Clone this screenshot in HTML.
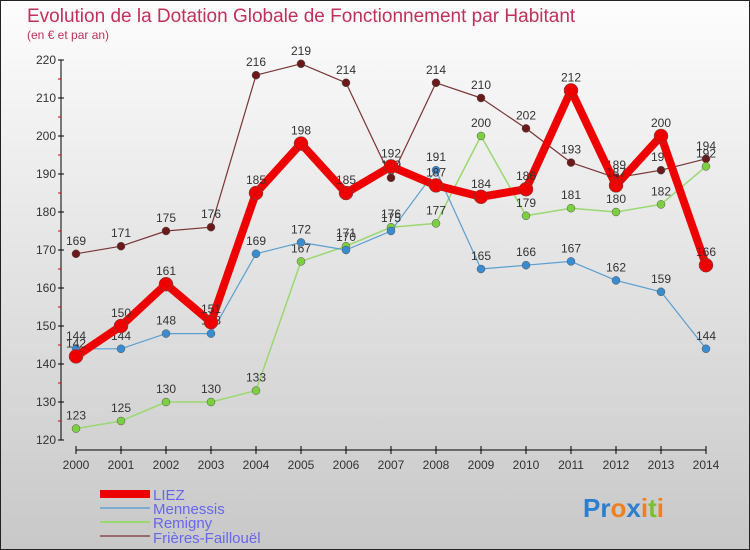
<!DOCTYPE html>
<html><head><meta charset="utf-8"><style>
body{margin:0;}
#c{width:750px;height:550px;position:relative;overflow:hidden;font-family:"Liberation Sans",sans-serif;}
</style></head><body>
<div id="c">
<svg id="s" width="750" height="550" xmlns="http://www.w3.org/2000/svg">
<defs><linearGradient id="bg" x1="0" y1="0" x2="0" y2="1"><stop offset="0" stop-color="#fdfdfd"/><stop offset="1" stop-color="#c8c8c8"/></linearGradient></defs>
<rect x="0.5" y="0.5" width="749" height="549" fill="url(#bg)" stroke="#222"/>
<text x="27" y="22" font-size="19" fill="#c0305a">Evolution de la Dotation Globale de Fonctionnement par Habitant</text>
<text x="27" y="39" font-size="12" fill="#c0305a">(en € et par an)</text>
<g id="axes"></g><g id="series"></g>
<g>
<rect x="100" y="490" width="50" height="8" fill="#e00"/>
<text x="153" y="500" font-size="15" fill="#6666ee">LIEZ</text>
<rect x="100" y="507" width="50" height="2" fill="#7aadd0"/>
<text x="153" y="514" font-size="15" fill="#6666ee">Mennessis</text>
<rect x="100" y="521" width="50" height="2" fill="#9ad870"/>
<text x="153" y="528" font-size="15" fill="#6666ee">Remigny</text>
<rect x="100" y="535" width="50" height="2" fill="#9a6a6a"/>
<text x="153" y="543" font-size="15" fill="#6666ee">Frières-Faillouël</text>
</g>
<text x="583" y="517" font-size="26" font-weight="bold"><tspan fill="#2a7fd0">Pr</tspan><tspan fill="#f07f20">o</tspan><tspan fill="#2a7fd0">x</tspan><tspan fill="#f07f20">i</tspan><tspan fill="#7ac030">t</tspan><tspan fill="#f07f20">i</tspan></text>
</svg></div>
<script>
const years=[2000,2001,2002,2003,2004,2005,2006,2007,2008,2009,2010,2011,2012,2013,2014];
const yTicks=[120,130,140,150,160,170,180,190,200,210,220];
const liez=[142,150,161,151,185,198,185,192,187,184,186,212,187,200,166];
const mennessis=[144,144,148,148,169,172,170,175,191,165,166,167,162,159,144];
const remigny=[123,125,130,130,133,167,171,176,177,200,179,181,180,182,192];
const frieres=[169,171,175,176,216,219,214,189,214,210,202,193,189,191,194];
const NS="http://www.w3.org/2000/svg";
const X=i=>76+i*45, Y=v=>60+(220-v)*3.8;
function mk(t,a,p){const e=document.createElementNS(NS,t);for(const k in a)e.setAttribute(k,a[k]);p.appendChild(e);return e;}
const ax=document.getElementById('axes');
const yl=mk('line',{x1:61,y1:60,x2:61,y2:440,stroke:'#000','stroke-width':1},ax);


for(let v=125;v<220;v+=10){const m=mk('line',{x1:58,x2:61,y1:Y(v),y2:Y(v),stroke:'#d00'},ax);

}
yTicks.forEach(v=>{mk('line',{x1:58,x2:64,y1:Y(v),y2:Y(v),stroke:'#000'},ax);
const t=mk('text',{x:56,y:Y(v)+4,'text-anchor':'end','font-size':12,fill:'#333'},ax);t.textContent=v;

});
const xl=mk('line',{x1:76,y1:450,x2:706,y2:450,stroke:'#000'},ax);


years.forEach((y,i)=>{mk('line',{x1:X(i),x2:X(i),y1:446,y2:454,stroke:'#000'},ax);
const t=mk('text',{x:X(i),y:469,'text-anchor':'middle','font-size':12,fill:'#333'},ax);t.textContent=y;

});
const sg=document.getElementById('series');
function draw(arr,name,col,w,r,fill){
const g=mk('g',{},sg);


const l=mk('polyline',{points:arr.map((v,i)=>X(i)+','+Y(v)).join(' '),fill:'none',stroke:col,'stroke-width':w,'stroke-linejoin':'round'},g);


arr.forEach((v,i)=>{const c=mk('circle',{cx:X(i),cy:Y(v),r:r,fill:fill,stroke:'#555','stroke-width':0.5},g);


const t=mk('text',{x:X(i),y:Y(v)-9,'text-anchor':'middle','font-size':12,fill:'#333'},g);t.textContent=v;

});
}
draw(frieres,'frieres','#7a3535',1.2,4,'#6a1a1a');
draw(remigny,'remigny','#9ad870',1.5,4,'#7cd040');
draw(mennessis,'mennessis','#5a9fd0',1.2,4,'#3a8cd0');
draw(liez,'liez','#ee0000',8,7,'#ee0000');
</script>
</body></html>
